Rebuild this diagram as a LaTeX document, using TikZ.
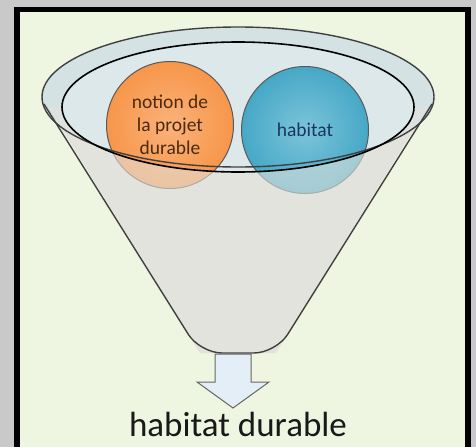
\documentclass[tikz,border=0pt]{standalone}
\usepackage{fontspec}
\setmainfont{Carlito}
\begin{document}
\begin{tikzpicture}[x=1pt,y=-1pt,
  rimline/.style={draw=black!75,line width=1.4pt},
  bubble/.style={circle,draw=black!65,line width=1pt,minimum size=127pt,inner sep=0pt,align=center,font=\fontsize{19.5}{23}\selectfont},
]
\definecolor{bgg}{HTML}{EEF6E2}
\definecolor{shadowg}{HTML}{C9C9C9}
\definecolor{funnelg}{HTML}{E3E3DD}
\definecolor{rimb}{HTML}{D4E2E4}
\definecolor{innerb}{HTML}{DCE8EA}
\definecolor{orng}{HTML}{F7964A}
\definecolor{orngl}{HTML}{FAB27A}
\definecolor{blu}{HTML}{46A8C6}
\definecolor{blul}{HTML}{7CC4DA}
\definecolor{otext}{HTML}{4A2A10}
\definecolor{btext}{HTML}{17375E}
\definecolor{arrfill}{HTML}{E4EEF6}
\useasboundingbox (0,0) rectangle (476,447);
% page and frame
\fill[shadowg] (0,0) rectangle (476,447);
\fill[black] (14,7) rectangle (471,447);
\fill[bgg] (20,12) rectangle (465,447);
% funnel body
\fill[funnelg] (44,100) -- (200,353) -- (276,353) -- (432,100) -- cycle;
\fill[rimb] (238,97) ellipse [x radius=196pt,y radius=70pt];
\fill[innerb] (238,107) ellipse [x radius=176pt,y radius=65pt];
% bubbles
\node[bubble,inner color=orngl,outer color=orng,text=otext] (notion) at (170,125) {notion de\\la projet\\durable};
\node[bubble,inner color=blul,outer color=blu,text=btext] (hab) at (305,130) {habitat};
% translucent front wall over the lower part of the bubbles
\begin{scope}
  \clip (0,107) rectangle (476,447);
  \fill[funnelg,opacity=0.6,even odd rule]
    (44,100) -- (200,353) -- (276,353) -- (432,100) -- cycle
    (238,107) ellipse [x radius=176pt,y radius=65pt];
\end{scope}
% outlines
\draw[rimline,rounded corners=22pt] (44,104) -- (200,353) -- (276,353) -- (432,104);
\draw[rimline] (238,97) ellipse [x radius=196pt,y radius=70pt];
\draw[draw=black,line width=1.6pt] (238,107) ellipse [x radius=176pt,y radius=65pt];
% arrow
\coordinate (tip) at (233,408);
\draw[fill=arrfill,draw=black!60,line width=1pt,line join=miter]
  (215,354) -- (251,354) -- (251,382) -- (269,382) -- (tip) -- (197,382) -- (215,382) -- cycle;
% result text
\node[text=black!90,font=\fontsize{35}{40}\selectfont] (res) at (238,424) {habitat durable};
\end{tikzpicture}
\end{document}
